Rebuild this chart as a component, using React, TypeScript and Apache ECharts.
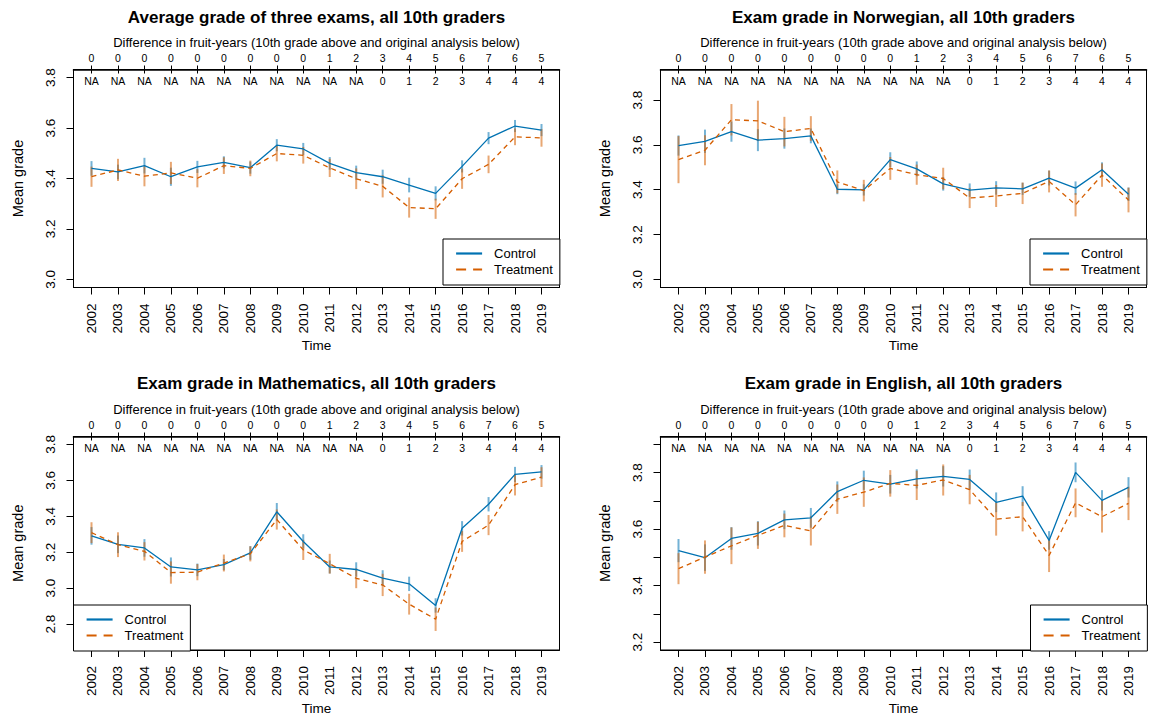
import React, { useEffect, useRef } from "react";
import * as echarts from "echarts";

// ---------- data ----------
const years = [2002, 2003, 2004, 2005, 2006, 2007, 2008, 2009, 2010, 2011, 2012, 2013, 2014, 2015, 2016, 2017, 2018, 2019];
const fruitYears10th = ["0", "0", "0", "0", "0", "0", "0", "0", "0", "1", "2", "3", "4", "5", "6", "7", "6", "5"];
const fruitYearsOriginal = ["NA", "NA", "NA", "NA", "NA", "NA", "NA", "NA", "NA", "NA", "NA", "0", "1", "2", "3", "4", "4", "4"];

// Average grade of three exams
const avgControl = [3.44, 3.426, 3.451, 3.407, 3.446, 3.464, 3.443, 3.532, 3.517, 3.46, 3.423, 3.407, 3.374, 3.341, 3.448, 3.56, 3.608, 3.592];
const avgControlErr = [0.029, 0.029, 0.031, 0.036, 0.024, 0.024, 0.024, 0.024, 0.024, 0.025, 0.028, 0.028, 0.029, 0.028, 0.024, 0.024, 0.024, 0.024];
const avgTreatment = [3.407, 3.434, 3.409, 3.422, 3.401, 3.451, 3.44, 3.499, 3.492, 3.442, 3.399, 3.369, 3.285, 3.28, 3.399, 3.456, 3.565, 3.561];
const avgTreatmentErr = [0.04, 0.044, 0.04, 0.044, 0.036, 0.033, 0.031, 0.031, 0.033, 0.036, 0.041, 0.044, 0.04, 0.04, 0.04, 0.035, 0.033, 0.035];

// Norwegian
const norControl = [3.597, 3.616, 3.659, 3.621, 3.628, 3.64, 3.402, 3.399, 3.534, 3.493, 3.426, 3.398, 3.408, 3.404, 3.452, 3.407, 3.489, 3.38];
const norControlErr = [0.045, 0.052, 0.045, 0.049, 0.045, 0.033, 0.022, 0.025, 0.033, 0.033, 0.03, 0.03, 0.03, 0.027, 0.033, 0.03, 0.033, 0.03];
const norTreatment = [3.534, 3.576, 3.712, 3.707, 3.659, 3.673, 3.435, 3.396, 3.495, 3.467, 3.45, 3.363, 3.372, 3.384, 3.437, 3.333, 3.465, 3.354];
const norTreatmentErr = [0.105, 0.067, 0.07, 0.09, 0.066, 0.055, 0.051, 0.048, 0.051, 0.045, 0.048, 0.045, 0.049, 0.048, 0.049, 0.052, 0.052, 0.055];

// Mathematics
const mathControl = [3.291, 3.244, 3.224, 3.118, 3.102, 3.131, 3.196, 3.425, 3.26, 3.118, 3.104, 3.056, 3.024, 2.904, 3.333, 3.467, 3.633, 3.647];
const mathControlErr = [0.049, 0.049, 0.049, 0.053, 0.035, 0.031, 0.038, 0.049, 0.04, 0.036, 0.04, 0.044, 0.04, 0.04, 0.04, 0.04, 0.042, 0.038];
const mathTreatment = [3.309, 3.242, 3.205, 3.087, 3.089, 3.14, 3.191, 3.382, 3.213, 3.136, 3.055, 3.018, 2.911, 2.827, 3.26, 3.351, 3.576, 3.618];
const mathTreatmentErr = [0.058, 0.069, 0.051, 0.062, 0.045, 0.047, 0.042, 0.056, 0.056, 0.055, 0.055, 0.062, 0.058, 0.065, 0.058, 0.056, 0.06, 0.055];

// English
const engControl = [3.524, 3.499, 3.567, 3.585, 3.633, 3.64, 3.733, 3.773, 3.759, 3.778, 3.787, 3.776, 3.695, 3.717, 3.56, 3.801, 3.702, 3.748];
const engControlErr = [0.041, 0.047, 0.04, 0.043, 0.033, 0.035, 0.036, 0.034, 0.033, 0.034, 0.036, 0.035, 0.035, 0.035, 0.033, 0.035, 0.036, 0.036];
const engTreatment = [3.46, 3.501, 3.541, 3.578, 3.613, 3.594, 3.706, 3.731, 3.762, 3.755, 3.774, 3.74, 3.635, 3.644, 3.507, 3.693, 3.644, 3.691];
const engTreatmentErr = [0.055, 0.059, 0.065, 0.048, 0.042, 0.052, 0.052, 0.052, 0.047, 0.052, 0.055, 0.052, 0.058, 0.052, 0.059, 0.051, 0.056, 0.059];

const titles = [
  "Average grade of three exams, all 10th graders",
  "Exam grade in Norwegian, all 10th graders",
  "Exam grade in Mathematics, all 10th graders",
  "Exam grade in English, all 10th graders",
];
const topAxisTitle = "Difference in fruit-years (10th grade above and original analysis below)";
const yLimits = [
  [3.0, 3.8],
  [3.0, 3.9],
  [2.7, 3.8],
  [3.2, 3.9],
];
const yTicks = [
  [3.0, 3.2, 3.4, 3.6, 3.8],
  [3.0, 3.2, 3.4, 3.6, 3.8],
  [2.8, 3.0, 3.2, 3.4, 3.6, 3.8],
  [3.2, 3.3, 3.4, 3.5, 3.6, 3.7, 3.8, 3.9],
];
const yTickLabels = [
  [3.0, 3.2, 3.4, 3.6, 3.8],
  [3.0, 3.2, 3.4, 3.6, 3.8],
  [2.8, 3.0, 3.2, 3.4, 3.6, 3.8],
  [3.2, 3.4, 3.6, 3.8],
];
const controlSeries = [avgControl, norControl, mathControl, engControl];
const controlErr = [avgControlErr, norControlErr, mathControlErr, engControlErr];
const treatmentSeries = [avgTreatment, norTreatment, mathTreatment, engTreatment];
const treatmentErr = [avgTreatmentErr, norTreatmentErr, mathTreatmentErr, engTreatmentErr];

// ---------- layout / style ----------
const FONT = '"Liberation Sans", Arial, Helvetica, sans-serif';
const BLUE = "#0072B2";
const ORANGE = "#D55E00";
const BLUE_ERR = "rgba(0,114,178,0.55)";
const ORANGE_ERR = "rgba(213,94,0,0.55)";

const layouts = [
  { left: 73.5, top: 69.5, width: 486, height: 218, cx: 316.5, titleY: 17, legendLeft: 443, legendTop: 239 },
  { left: 660.5, top: 69.5, width: 486, height: 218, cx: 903.5, titleY: 17, legendLeft: 1030, legendTop: 239 },
  { left: 73.5, top: 436.5, width: 486, height: 217, cx: 316.5, titleY: 383.5, legendLeft: 73.5, legendTop: 605 },
  { left: 660.5, top: 436.5, width: 486, height: 217, cx: 903.5, titleY: 383.5, legendLeft: 1030.5, legendTop: 605 },
];

const X_MIN = 2002 - 0.04 * 17;
const X_MAX = 2019 + 0.04 * 17;

const labelFor = (arr: string[]) => (v: number) => {
  const idx = years.indexOf(Math.round(v));
  return idx >= 0 ? arr[idx] : "";
};

function buildOption() {
  const grid: any[] = [];
  const xAxis: any[] = [];
  const yAxis: any[] = [];
  const series: any[] = [];
  const legend: any[] = [];
  const graphic: any[] = [];

  layouts.forEach((L, i) => {
    grid.push({
      left: L.left,
      top: L.top,
      width: L.width,
      height: L.height,
      show: true,
      borderColor: "#000",
      borderWidth: 1,
      backgroundColor: "transparent",
      containLabel: false,
    });

    // bottom axis: years
    xAxis.push({
      type: "value",
      gridIndex: i,
      position: "bottom",
      min: X_MIN,
      max: X_MAX,
      axisLine: { show: true, lineStyle: { color: "#000", width: 1 } },
      axisTick: { show: true, customValues: years, length: 7, lineStyle: { color: "#000" } },
      axisLabel: {
        customValues: years,
        rotate: 90,
        margin: 16,
        fontSize: 13.5,
        fontFamily: FONT,
        color: "#000",
        formatter: (v: number) => String(Math.round(v)),
      },
      splitLine: { show: false },
      name: "Time",
      nameLocation: "middle",
      nameGap: 51,
      nameTextStyle: { fontSize: 13.5, fontFamily: FONT, color: "#000" },
    });
    // top outer axis: fruit-years, 10th grade
    xAxis.push({
      type: "value",
      gridIndex: i,
      position: "top",
      min: X_MIN,
      max: X_MAX,
      axisLine: { show: false },
      axisTick: { show: true, customValues: years, length: 4, lineStyle: { color: "#000" } },
      axisLabel: {
        customValues: years,
        margin: 6,
        fontSize: 10.5,
        fontFamily: FONT,
        color: "#000",
        formatter: labelFor(fruitYears10th),
      },
      splitLine: { show: false },
      name: topAxisTitle,
      nameLocation: "middle",
      nameGap: 21,
      nameTextStyle: { fontSize: 13, fontFamily: FONT, color: "#000" },
    });
    // top inner axis: fruit-years, original analysis
    xAxis.push({
      type: "value",
      gridIndex: i,
      position: "top",
      min: X_MIN,
      max: X_MAX,
      axisLine: { show: true, lineStyle: { color: "#000", width: 1.6 } },
      axisTick: { show: true, inside: true, customValues: years, length: 4, lineStyle: { color: "#000" } },
      axisLabel: {
        inside: true,
        customValues: years,
        margin: 6,
        fontSize: 10.5,
        fontFamily: FONT,
        color: "#000",
        formatter: labelFor(fruitYearsOriginal),
      },
      splitLine: { show: false },
    });

    const [lo, hi] = yLimits[i];
    const ext = (hi - lo) * 0.04;
    yAxis.push({
      type: "value",
      gridIndex: i,
      position: "left",
      min: lo - ext,
      max: hi + ext,
      axisLine: { show: true, lineStyle: { color: "#000" } },
      axisTick: { show: true, customValues: yTicks[i], length: 7, lineStyle: { color: "#000" } },
      axisLabel: {
        customValues: yTickLabels[i],
        rotate: 90,
        margin: 16,
        fontSize: 13.5,
        fontFamily: FONT,
        color: "#000",
        formatter: (v: number) => v.toFixed(1),
      },
      splitLine: { show: false },
      name: "Mean grade",
      nameLocation: "middle",
      nameGap: 48,
      nameTextStyle: { fontSize: 14.5, fontFamily: FONT, color: "#000" },
    });

    const xIdx = i * 3;
    const errSeries = (name: string, vals: number[], errs: number[], color: string) => ({
      type: "custom",
      name,
      xAxisIndex: xIdx,
      yAxisIndex: i,
      silent: true,
      z: 2,
      encode: { x: 0, y: [1, 2] },
      data: years.map((y, k) => [y, vals[k] - errs[k], vals[k] + errs[k]]),
      renderItem: (params: any, api: any) => {
        const p1 = api.coord([api.value(0), api.value(1)]);
        const p2 = api.coord([api.value(0), api.value(2)]);
        return {
          type: "line",
          shape: { x1: p1[0], y1: p1[1], x2: p2[0], y2: p2[1] },
          style: { stroke: color, lineWidth: 2 },
        };
      },
    });
    series.push(errSeries("Control interval " + i, controlSeries[i], controlErr[i], BLUE_ERR));
    series.push(errSeries("Treatment interval " + i, treatmentSeries[i], treatmentErr[i], ORANGE_ERR));
    series.push({
      type: "line",
      name: "Control",
      xAxisIndex: xIdx,
      yAxisIndex: i,
      z: 3,
      symbol: "none",
      showSymbol: false,
      silent: true,
      itemStyle: { color: BLUE },
      lineStyle: { color: BLUE, width: 1.3, type: "solid" },
      data: years.map((y, k) => [y, controlSeries[i][k]]),
    });
    series.push({
      type: "line",
      name: "Treatment",
      xAxisIndex: xIdx,
      yAxisIndex: i,
      z: 3,
      symbol: "none",
      showSymbol: false,
      silent: true,
      itemStyle: { color: ORANGE },
      lineStyle: { color: ORANGE, width: 1.3, type: [5, 4] },
      data: years.map((y, k) => [y, treatmentSeries[i][k]]),
    });

    legend.push({
      orient: "vertical",
      left: L.legendLeft,
      top: L.legendTop,
      itemWidth: 26,
      itemHeight: 14,
      itemGap: 3,
      padding: [8, 7, 9, 12],
      borderColor: "#000",
      borderWidth: 1,
      borderRadius: 0,
      backgroundColor: "#fff",
      selectedMode: false,
      textStyle: { fontSize: 13, fontFamily: FONT, color: "#000", padding: [0, 0, 0, 7] },
      itemStyle: { color: "rgba(0,0,0,0)", borderWidth: 0, opacity: 0 },
      lineStyle: { width: 2.2 },
      data: [
        { name: "Control", lineStyle: { type: "solid", width: 2.2 } },
        { name: "Treatment", lineStyle: { type: [10, 7], width: 2.2 } },
      ],
    });

    graphic.push({
      type: "text",
      x: L.cx,
      y: L.titleY,
      style: {
        text: titles[i],
        fontSize: 17,
        fontWeight: "bold",
        fontFamily: FONT,
        fill: "#000",
        align: "center",
        verticalAlign: "middle",
        textAlign: "center",
        textVerticalAlign: "middle",
      },
    });
  });

  return {
    animation: false,
    backgroundColor: "#fff",
    grid,
    xAxis,
    yAxis,
    series,
    legend,
    graphic,
  };
}

export default function App() {
  const ref = useRef<HTMLDivElement>(null);
  useEffect(() => {
    if (!ref.current) return;
    const chart = echarts.init(ref.current, undefined, { renderer: "svg" });
    chart.setOption(buildOption() as any);
    return () => chart.dispose();
  }, []);
  return (
    <div
      ref={ref}
      style={{ position: "fixed", left: 0, top: 0, width: 1155, height: 716, background: "#fff" }}
    />
  );
}
